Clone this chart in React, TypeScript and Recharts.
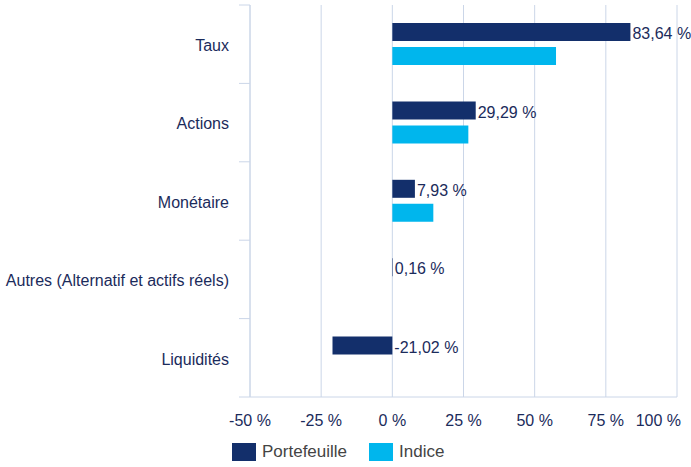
import { BarChart, Bar, XAxis, YAxis, CartesianGrid, LabelList } from 'recharts';

const categories = ['Taux', 'Actions', 'Monétaire', 'Autres (Alternatif et actifs réels)', 'Liquidités'];
const portefeuille = [83.64, 29.29, 7.93, 0.16, -21.02];
const indice = [57.5, 26.7, 14.4, 0, 0];
const xTicks = [-50, -25, 0, 25, 50, 75, 100];
const seriesNames = ['Portefeuille', 'Indice'];

const NAVY = '#132f6b';
const CYAN = '#00b6ed';
const TEXT = '#1b2b5b';
const GRID = '#cbd6e8';
const FONT = '"Liberation Sans", Arial, Helvetica, sans-serif';

const data = categories.map((name, i) => ({ name, portefeuille: portefeuille[i], indice: indice[i] }));

const fmt = (v: number) => v.toFixed(2).replace('.', ',') + ' %';

const YTick = (props: any) => {
  const { x, y, payload, index, visibleTicksCount } = props;
  const half = payload.offset ?? 39.2;
  const axisX = 250;
  return (
    <g>
      <line x1={axisX - 11} x2={axisX} y1={y - half} y2={y - half} stroke={GRID} />
      {index === visibleTicksCount - 1 && (
        <line x1={axisX - 11} x2={axisX} y1={y + half} y2={y + half} stroke={GRID} />
      )}
      <text x={x} y={y} dy="0.42em" textAnchor="end" fill={TEXT} fontSize={16} fontFamily={FONT}>
        {payload.value}
      </text>
    </g>
  );
};

const XTick = (props: any) => {
  const { x, y, payload } = props;
  const last = payload.value === 100;
  return (
    <text x={last ? x + 4 : x} y={y} dy="0.71em" textAnchor={last ? 'end' : 'middle'} fill={TEXT} fontSize={16} fontFamily={FONT}>
      {payload.value + ' %'}
    </text>
  );
};

const BarLabel = (props: any) => {
  const { x, y, width, height, value } = props;
  return (
    <text x={Math.max(x, x + width) + 2} y={y + height / 2} dy="0.45em" fill={TEXT} fontSize={16} fontFamily={FONT}>
      {fmt(value)}
    </text>
  );
};

export default function App() {
  return (
    <div style={{ position: 'absolute', left: 0, top: 0, width: 691, height: 467, background: '#fff', fontFamily: FONT }}>
      <BarChart
        width={691}
        height={467}
        data={data}
        layout="vertical"
        margin={{ top: 5, right: 14, bottom: 40, left: 0 }}
        barSize={18}
        barGap={6}
      >
        <CartesianGrid horizontal={false} stroke={GRID} />
        <XAxis
          type="number"
          domain={[-50, 100]}
          ticks={xTicks}
          height={30}
          axisLine={{ stroke: GRID }}
          tickLine={false}
          tickSize={0}
          tickMargin={18}
          tick={<XTick />}
        />
        <YAxis
          type="category"
          dataKey="name"
          width={250}
          axisLine={{ stroke: GRID }}
          tickLine={false}
          tickSize={0}
          tickMargin={21}
          tick={<YTick />}
          interval={0}
        />
        <Bar dataKey="portefeuille" fill={NAVY} isAnimationActive={false}>
          <LabelList dataKey="portefeuille" content={<BarLabel />} />
        </Bar>
        <Bar dataKey="indice" fill={CYAN} isAnimationActive={false} />
      </BarChart>
      <div style={{ position: 'absolute', left: 232, top: 443, display: 'flex', alignItems: 'center', fontSize: 17, color: '#444' }}>
        {seriesNames.map((n, i) => (
          <div key={n} style={{ display: 'flex', alignItems: 'center', marginRight: 22 }}>
            <div style={{ width: 24, height: 18, background: i === 0 ? NAVY : CYAN, marginRight: 6 }} />
            <span style={{ lineHeight: '18px' }}>{n}</span>
          </div>
        ))}
      </div>
    </div>
  );
}
